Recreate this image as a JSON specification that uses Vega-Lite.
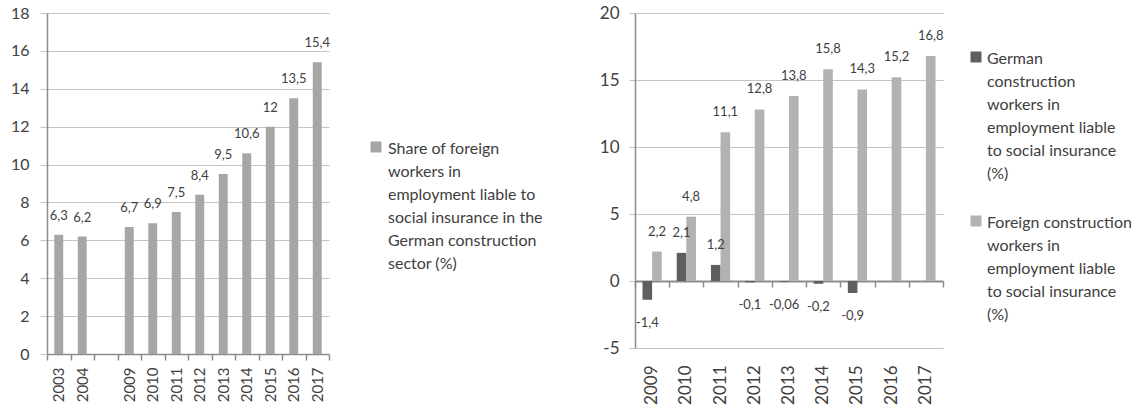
{
  "$schema": "https://vega.github.io/schema/vega-lite/v6.json",
  "padding": {"left": 10, "top": 4, "right": 5, "bottom": 5},
  "background": "white",
  "config": {
    "font": "Lato",
    "locale": {"number": {"decimal": ",", "thousands": ".", "grouping": [3], "currency": ["", " €"], "minus": "-"}},
    "view": {"stroke": null},
    "axis": {"labelColor": "#404040", "labelFont": "Lato", "domainColor": "#8c8c8c", "gridColor": "#c4c4c4", "tickColor": "#8c8c8c", "title": null},
    "legend": {"labelFont": "Lato", "labelColor": "#404040", "labelFontSize": 16, "labelLimit": 400, "padding": 0, "symbolType": "square", "symbolSize": 121, "symbolStrokeWidth": 0, "title": null}
  },
  "bounds": "flush",
  "spacing": 306,
  "resolve": {"scale": {"color": "independent"}, "legend": {"color": "independent"}},
  "hconcat": [
    {
      "width": 282,
      "height": 341,
      "data": {"values": [
        {"year": "2003", "series": "Share of foreign workers in employment liable to social insurance in the German construction sector (%)", "value": 6.3},
        {"year": "2004", "series": "Share of foreign workers in employment liable to social insurance in the German construction sector (%)", "value": 6.2},
        {"year": "2009", "series": "Share of foreign workers in employment liable to social insurance in the German construction sector (%)", "value": 6.7},
        {"year": "2010", "series": "Share of foreign workers in employment liable to social insurance in the German construction sector (%)", "value": 6.9},
        {"year": "2011", "series": "Share of foreign workers in employment liable to social insurance in the German construction sector (%)", "value": 7.5},
        {"year": "2012", "series": "Share of foreign workers in employment liable to social insurance in the German construction sector (%)", "value": 8.4},
        {"year": "2013", "series": "Share of foreign workers in employment liable to social insurance in the German construction sector (%)", "value": 9.5},
        {"year": "2014", "series": "Share of foreign workers in employment liable to social insurance in the German construction sector (%)", "value": 10.6},
        {"year": "2015", "series": "Share of foreign workers in employment liable to social insurance in the German construction sector (%)", "value": 12},
        {"year": "2016", "series": "Share of foreign workers in employment liable to social insurance in the German construction sector (%)", "value": 13.5},
        {"year": "2017", "series": "Share of foreign workers in employment liable to social insurance in the German construction sector (%)", "value": 15.4}
      ]},
      "encoding": {
        "x": {
          "field": "year", "type": "ordinal",
          "scale": {"domain": ["2003", "2004", " ", "2009", "2010", "2011", "2012", "2013", "2014", "2015", "2016", "2017"], "paddingInner": 0, "paddingOuter": 0},
          "axis": {"labelAngle": -90, "labelFontSize": 15, "tickBand": "extent", "tickSize": 6, "tickWidth": 1.5, "domainWidth": 1.5, "labelPadding": 7}
        },
        "y": {
          "field": "value", "type": "quantitative",
          "scale": {"domain": [0, 18], "nice": false},
          "axis": {"values": [0, 2, 4, 6, 8, 10, 12, 14, 16, 18], "grid": true, "tickSize": 7, "tickColor": "#c4c4c4", "domainWidth": 1.5, "labelFontSize": 16, "labelPadding": 11}
        }
      },
      "layer": [
        {
          "mark": {"type": "bar", "width": {"band": 0.38}},
          "encoding": {
            "color": {
              "field": "series", "type": "nominal",
              "scale": {"range": ["#a6a6a6"]},
              "legend": {
                "orient": "none", "legendX": 321, "legendY": 126,
                "labelExpr": "['Share of foreign', 'workers in', 'employment liable to', 'social insurance in the', 'German construction', 'sector (%)']",
                "labelOffset": 4,
                "encode": {"labels": {"update": {"lineHeight": {"value": 23}, "baseline": {"value": "top"}, "dy": {"value": -6}}}}
              }
            }
          }
        },
        {
          "mark": {"type": "text", "dy": -19, "fontSize": 13, "color": "#404040", "baseline": "middle"},
          "encoding": {"text": {"field": "value", "type": "quantitative", "format": "~g"}}
        }
      ]
    },
    {
      "width": 308,
      "height": 335,
      "data": {"values": [
        {"year": "2009", "series": "German construction workers in employment liable to social insurance (%)", "value": -1.4},
        {"year": "2010", "series": "German construction workers in employment liable to social insurance (%)", "value": 2.1},
        {"year": "2011", "series": "German construction workers in employment liable to social insurance (%)", "value": 1.2},
        {"year": "2012", "series": "German construction workers in employment liable to social insurance (%)", "value": -0.1},
        {"year": "2013", "series": "German construction workers in employment liable to social insurance (%)", "value": -0.06},
        {"year": "2014", "series": "German construction workers in employment liable to social insurance (%)", "value": -0.2},
        {"year": "2015", "series": "German construction workers in employment liable to social insurance (%)", "value": -0.9},
        {"year": "2009", "series": "Foreign construction workers in employment liable to social insurance (%)", "value": 2.2},
        {"year": "2010", "series": "Foreign construction workers in employment liable to social insurance (%)", "value": 4.8},
        {"year": "2011", "series": "Foreign construction workers in employment liable to social insurance (%)", "value": 11.1},
        {"year": "2012", "series": "Foreign construction workers in employment liable to social insurance (%)", "value": 12.8},
        {"year": "2013", "series": "Foreign construction workers in employment liable to social insurance (%)", "value": 13.8},
        {"year": "2014", "series": "Foreign construction workers in employment liable to social insurance (%)", "value": 15.8},
        {"year": "2015", "series": "Foreign construction workers in employment liable to social insurance (%)", "value": 14.3},
        {"year": "2016", "series": "Foreign construction workers in employment liable to social insurance (%)", "value": 15.2},
        {"year": "2017", "series": "Foreign construction workers in employment liable to social insurance (%)", "value": 16.8}
      ]},
      "encoding": {
        "y": {
          "field": "value", "type": "quantitative",
          "scale": {"domain": [-5, 20], "nice": false},
          "axis": {"values": [-5, 0, 5, 10, 15, 20], "grid": true, "tickSize": 6, "tickColor": "#c4c4c4", "domainWidth": 1.5, "labelFontSize": 17, "labelPadding": 10}
        },
        "xOffset": {"field": "series", "type": "nominal", "scale": {"domain": ["German construction workers in employment liable to social insurance (%)", "Foreign construction workers in employment liable to social insurance (%)"], "paddingInner": 0, "paddingOuter": 0.78}}
      },
      "layer": [
        {
          "mark": {"type": "bar"},
          "encoding": {
            "x": {
              "field": "year", "type": "ordinal",
              "scale": {"paddingInner": 0, "paddingOuter": 0},
              "axis": {"orient": "bottom", "labelAngle": -90, "labelFontSize": 17, "ticks": false, "domain": false, "labelPadding": 17}
            },
            "color": {
              "field": "series", "type": "nominal",
              "scale": {"domain": ["German construction workers in employment liable to social insurance (%)", "Foreign construction workers in employment liable to social insurance (%)"], "range": ["#5f5f5f", "#b2b2b2"]},
              "legend": {
                "orient": "none", "legendX": 333, "legendY": 36,
                "rowPadding": 31,
                "labelExpr": "datum.label == 'German construction workers in employment liable to social insurance (%)' ? ['German', 'construction', 'workers in', 'employment liable', 'to social insurance', '(%)'] : ['Foreign construction', 'workers in', 'employment liable', 'to social insurance', '(%)']",
                "labelOffset": 3,
                "encode": {"labels": {"update": {"lineHeight": {"value": 23}, "baseline": {"value": "top"}, "dy": {"value": -6}}}}
              }
            }
          }
        },
        {
          "transform": [{"filter": "datum.value >= 0"}],
          "mark": {"type": "text", "dy": -20, "fontSize": 13, "color": "#404040", "baseline": "middle"},
          "encoding": {
            "x": {"field": "year", "type": "ordinal", "axis": null},
            "text": {"field": "value", "type": "quantitative", "format": "~g"}
          }
        },
        {
          "transform": [{"filter": "datum.value < 0"}],
          "mark": {"type": "text", "dy": 23, "fontSize": 13, "color": "#404040", "baseline": "middle"},
          "encoding": {
            "x": {
              "field": "year", "type": "ordinal",
              "axis": {"orient": "bottom", "labels": false, "offset": -67, "tickBand": "extent", "tickSize": 6, "tickWidth": 1.5, "domainWidth": 2, "domain": true, "ticks": true}
            },
            "text": {"field": "value", "type": "quantitative", "format": "~g"}
          }
        }
      ],
      "resolve": {"axis": {"x": "independent"}}
    }
  ]
}
